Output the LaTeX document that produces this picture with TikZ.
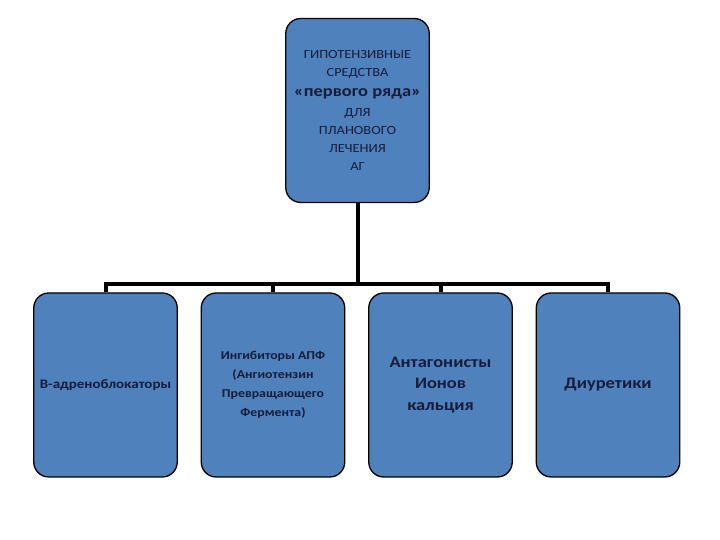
\documentclass[tikz,border=0pt]{standalone}
\usepackage{fontspec}
\setmainfont[FakeStretch=1.15]{Carlito}
\usetikzlibrary{positioning}

\definecolor{boxblue}{RGB}{79,129,189}
\definecolor{boxtext}{RGB}{22,28,58}

\begin{document}
\begin{tikzpicture}[
  x=1pt, y=1pt,
  every node/.style={align=center, text=boxtext},
  block/.style={draw, line width=1.3pt, fill=boxblue, rounded corners=15pt,
                minimum width=143.5pt, minimum height=184pt, inner sep=2pt},
  link/.style={line width=4pt, line join=miter},
]
\useasboundingbox (0,0) rectangle (720,540);

% main group
\node [block, font=\fontsize{12.5}{18}\selectfont] (main) at (357.5,429.5) {%
  ГИПОТЕНЗИВНЫЕ \\
  СРЕДСТВА \\[2pt]
  {\bfseries\fontsize{16}{18}\selectfont «первого ряда»} \\[2pt]
  ДЛЯ \\
  ПЛАНОВОГО \\
  ЛЕЧЕНИЯ \\
  АГ};

% drug classes
\node [block, font=\bfseries\fontsize{13}{16}\selectfont] (beta) at (105.5,155) {B-адреноблокаторы};
\node [block, font=\bfseries\fontsize{12}{19}\selectfont] (ace) [right=22.7pt of beta] {Ингибиторы АПФ \\ (Ангиотензин \\ Превращающего \\ Фермента)};
\node [block, font=\bfseries\fontsize{16}{21.5}\selectfont] (calc) [right=22.7pt of ace] {Антагонисты \\ Ионов \\ кальция};
\node [block, font=\bfseries\fontsize{16}{21.5}\selectfont] (diur) [right=22.7pt of calc] {Диуретики};

% connectors
\coordinate (bar) at ([yshift=8pt]beta.north);
\draw [link] (main.south) -- (main.south |- bar);
\draw [link] (beta.north) |- (bar) -| (diur.north);
\draw [link] (ace.north) -- (ace.north |- bar);
\draw [link] (calc.north) -- (calc.north |- bar);

\end{tikzpicture}
\end{document}
